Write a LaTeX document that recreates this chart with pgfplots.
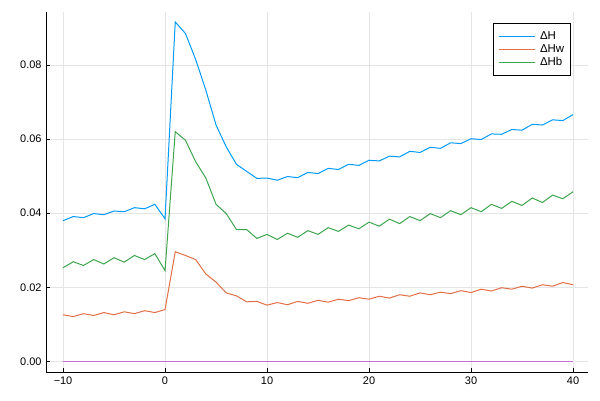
\documentclass[border=0pt]{standalone}
\usepackage{fontspec}
\setmainfont{Liberation Sans}
\usepackage{pgfplots}
\pgfplotsset{compat=1.18}
\usepackage{pgfplotstable}
\definecolor{jblue}{RGB}{0,154,250}
\definecolor{jorange}{RGB}{226,111,70}
\definecolor{jgreen}{RGB}{62,164,78}
\definecolor{jpurple}{RGB}{194,113,210}
\pgfplotstableread{
x H Hw Hb Z
-10 0.0380 0.0126 0.0253 0
-9 0.0391 0.0121 0.0269 0
-8 0.0388 0.0129 0.0259 0
-7 0.0399 0.0124 0.0275 0
-6 0.0396 0.0132 0.0263 0
-5 0.0406 0.0126 0.0280 0
-4 0.0404 0.0134 0.0268 0
-3 0.0415 0.0129 0.0286 0
-2 0.0412 0.0137 0.0275 0
-1 0.0424 0.0132 0.0291 0
0 0.0385 0.0140 0.0245 0
1 0.0916 0.0296 0.0620 0
2 0.0885 0.0286 0.0597 0
3 0.0815 0.0275 0.0539 0
4 0.0732 0.0236 0.0495 0
5 0.0638 0.0214 0.0424 0
6 0.0579 0.0185 0.0399 0
7 0.0532 0.0177 0.0356 0
8 0.0513 0.0161 0.0356 0
9 0.0494 0.0162 0.0332 0
10 0.0495 0.0152 0.0343 0
11 0.0489 0.0159 0.0329 0
12 0.0499 0.0153 0.0346 0
13 0.0496 0.0162 0.0335 0
14 0.0510 0.0157 0.0353 0
15 0.0507 0.0165 0.0343 0
16 0.0521 0.0160 0.0361 0
17 0.0518 0.0168 0.0351 0
18 0.0532 0.0164 0.0368 0
19 0.0529 0.0172 0.0358 0
20 0.0543 0.0168 0.0376 0
21 0.0541 0.0176 0.0365 0
22 0.0554 0.0171 0.0384 0
23 0.0552 0.0180 0.0372 0
24 0.0567 0.0176 0.0391 0
25 0.0564 0.0185 0.0380 0
26 0.0578 0.0180 0.0399 0
27 0.0575 0.0187 0.0388 0
28 0.0590 0.0183 0.0407 0
29 0.0588 0.0191 0.0396 0
30 0.0601 0.0186 0.0415 0
31 0.0599 0.0195 0.0404 0
32 0.0614 0.0190 0.0424 0
33 0.0613 0.0199 0.0413 0
34 0.0626 0.0195 0.0432 0
35 0.0624 0.0203 0.0421 0
36 0.0640 0.0198 0.0441 0
37 0.0638 0.0207 0.0429 0
38 0.0652 0.0203 0.0449 0
39 0.0650 0.0213 0.0439 0
40 0.0666 0.0207 0.0458 0
}\datatable
\begin{document}
\begin{tikzpicture}
\begin{axis}[
  scale only axis,
  width=542bp, height=360bp,
  xmin=-11.67, xmax=41.47,
  ymin=-0.00284, ymax=0.0943,
  scaled y ticks=false,
  axis x line=bottom, axis y line=left,
  axis line style={-, black, line width=0.9bp},
  tick align=inside,
  major tick length=4bp,
  tick style={black, line width=0.8bp},
  xtick={-10,0,10,20,30,40},
  xticklabels={−10,0,10,20,30,40},
  ytick={0,0.02,0.04,0.06,0.08},
  yticklabels={0.00,0.02,0.04,0.06,0.08},
  tick label style={font=\fontsize{11}{13}\selectfont},
  xticklabel style={yshift=-1bp},
  yticklabel style={xshift=-1bp},
  grid=major,
  major grid style={black!10, line width=0.6bp},
  clip=false,
  legend style={
    at={(0.9673,0.9685)}, anchor=north east,
    draw=black, line width=0.8bp, fill=white,
    font=\fontsize{11.5}{13}\selectfont,
    inner xsep=4.7bp, inner ysep=6.5bp,
    row sep=0bp, column sep=3.7bp,
    nodes={inner sep=1bp, text height=8.5bp, text depth=2.5bp},
    cells={anchor=west},
  },
  legend image code/.code={\draw[#1, line width=1bp] (0bp,0bp) -- (36bp,0bp);},
]
\addplot[jpurple, line width=1.1bp, forget plot] table[x=x, y=Z] {\datatable};
\addplot[jblue, line width=1bp] table[x=x, y=H] {\datatable};
\addlegendentry{ΔH}
\addplot[jorange, line width=1bp] table[x=x, y=Hw] {\datatable};
\addlegendentry{ΔHw}
\addplot[jgreen, line width=1bp] table[x=x, y=Hb] {\datatable};
\addlegendentry{ΔHb}
\coordinate (bl) at (rel axis cs:-0.0849,-0.0778);
\coordinate (tr) at (rel axis cs:1.0221,1.0333);
\end{axis}
\path (bl) rectangle (tr);
\end{tikzpicture}
\end{document}
